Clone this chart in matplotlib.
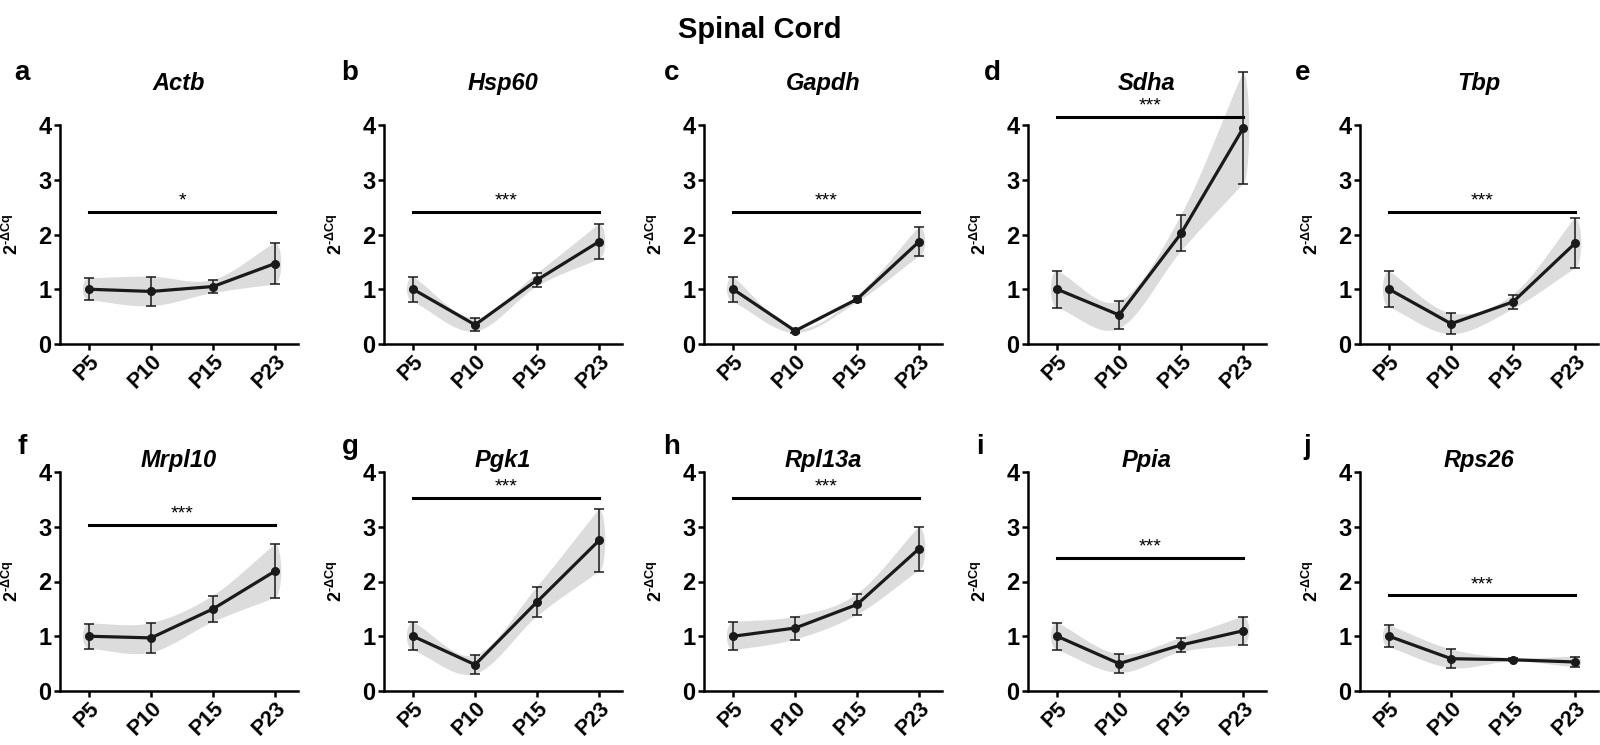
import numpy as np
import matplotlib
matplotlib.use('Agg')
import matplotlib.pyplot as plt

plt.rcParams['font.family'] = ['Liberation Sans', 'DejaVu Sans']
plt.rcParams['font.weight'] = 'bold'
plt.rcParams['mathtext.fontset'] = 'custom'
plt.rcParams['mathtext.rm'] = 'Liberation Sans:bold'
plt.rcParams['mathtext.bf'] = 'Liberation Sans:bold'
plt.rcParams['mathtext.it'] = 'Liberation Sans:bold:italic'

# ages on the x axis
ages = ['P5', 'P10', 'P15', 'P23']

# gene names and panel letters
genes = ['Actb', 'Hsp60', 'Gapdh', 'Sdha', 'Tbp',
         'Mrpl10', 'Pgk1', 'Rpl13a', 'Ppia', 'Rps26']
letters = ['a', 'b', 'c', 'd', 'e', 'f', 'g', 'h', 'i', 'j']

# mean 2^-dCq and error per age
actb = [1.00, 0.96, 1.05, 1.47]
actb_err = [0.20, 0.27, 0.12, 0.38]
hsp60 = [1.00, 0.35, 1.17, 1.87]
hsp60_err = [0.23, 0.12, 0.12, 0.32]
gapdh = [1.00, 0.24, 0.82, 1.87]
gapdh_err = [0.23, 0.04, 0.06, 0.27]
sdha = [1.00, 0.53, 2.02, 3.94]
sdha_err = [0.34, 0.25, 0.33, 1.02]
tbp = [1.00, 0.37, 0.77, 1.84]
tbp_err = [0.33, 0.19, 0.13, 0.46]
mrpl10 = [1.00, 0.97, 1.50, 2.19]
mrpl10_err = [0.23, 0.27, 0.24, 0.49]
pgk1 = [1.00, 0.48, 1.63, 2.75]
pgk1_err = [0.26, 0.17, 0.27, 0.57]
rpl13a = [1.00, 1.15, 1.58, 2.60]
rpl13a_err = [0.26, 0.21, 0.19, 0.40]
ppia = [1.00, 0.50, 0.84, 1.10]
ppia_err = [0.25, 0.17, 0.13, 0.26]
rps26 = [1.00, 0.59, 0.57, 0.53]
rps26_err = [0.20, 0.17, 0.03, 0.10]

means = [actb, hsp60, gapdh, sdha, tbp, mrpl10, pgk1, rpl13a, ppia, rps26]
errs = [actb_err, hsp60_err, gapdh_err, sdha_err, tbp_err,
        mrpl10_err, pgk1_err, rpl13a_err, ppia_err, rps26_err]

# significance bar height and label
sig_y = [2.42, 2.42, 2.42, 4.15, 2.42, 3.03, 3.53, 3.53, 2.43, 1.75]
sig_txt = ['*', '***', '***', '***', '***', '***', '***', '***', '***', '***']


def catmull(x, y, n=40):
    # smooth curve through the points
    x = np.asarray(x, float)
    y = np.asarray(y, float)
    px = np.concatenate([[2 * x[0] - x[1]], x, [2 * x[-1] - x[-2]]])
    py = np.concatenate([[2 * y[0] - y[1]], y, [2 * y[-1] - y[-2]]])
    xs, ys = [], []
    t = np.linspace(0, 1, n)
    for i in range(1, len(px) - 2):
        for p, out in ((px, xs), (py, ys)):
            p0, p1, p2, p3 = p[i - 1], p[i], p[i + 1], p[i + 2]
            out.append(0.5 * (2 * p1 + (-p0 + p2) * t
                              + (2 * p0 - 5 * p1 + 4 * p2 - p3) * t ** 2
                              + (-p0 + 3 * p1 - 3 * p2 + p3) * t ** 3))
    return np.concatenate(xs), np.concatenate(ys)


def band(ax, x, m, e, cap=0.1):
    m = np.asarray(m)
    e = np.asarray(e)
    ux, uy = catmull(x, m + e)
    lx, ly = catmull(x, m - e)
    th = np.linspace(np.pi / 2, -np.pi / 2, 30)
    rx = x[-1] + cap * np.cos(th)
    ry = m[-1] + e[-1] * np.sin(th)
    th2 = np.linspace(-np.pi / 2, -3 * np.pi / 2, 30)
    lcx = x[0] + cap * np.cos(th2)
    lcy = m[0] + e[0] * np.sin(th2)
    px = np.concatenate([ux, rx, lx[::-1], lcx])
    py = np.concatenate([uy, ry, ly[::-1], lcy])
    ax.fill(px, py, color='#dcdcdc', lw=0, zorder=1, clip_on=False)


W, H = 1600, 745
fig = plt.figure(figsize=(16, 7.45), dpi=100)

lefts = [60, 384, 704, 1028, 1360]
row_top = [125, 472]
row_h = 219
ax_w = 238
letter_x = [[22, 350, 672, 992, 1303], [22, 350, 672, 980, 1307]]
letter_y = [73, 447]
title_y = [83, 461]

x = np.arange(len(ages))

for k in range(10):
    r, c = divmod(k, 5)
    ax = fig.add_axes([lefts[c] / W, 1 - (row_top[r] + row_h) / H,
                       ax_w / W, row_h / H])
    band(ax, x, means[k], errs[k])
    ax.errorbar(x, means[k], yerr=errs[k], color='#1a1a1a', lw=2.3,
                marker='o', ms=5.5, elinewidth=1.1, capsize=3.5,
                capthick=1.1, zorder=3, clip_on=False)
    ax.plot([0, 3], [sig_y[k], sig_y[k]], color='black', lw=2.2,
            clip_on=False)
    ax.text(1.5, sig_y[k] + 0.04, sig_txt[k], ha='center', va='bottom',
            fontsize=14, fontweight='normal')
    ax.set_xlim(-0.47, 3.37)
    ax.set_ylim(0, 4)
    ax.set_yticks([0, 1, 2, 3, 4])
    ax.set_xticks(x)
    ax.set_xticklabels(ages, rotation=45, ha='right', va='top',
                       rotation_mode='anchor')
    for s in ['top', 'right']:
        ax.spines[s].set_visible(False)
    for s in ['left', 'bottom']:
        ax.spines[s].set_linewidth(1.8)
    ax.tick_params(width=1.8, length=4, pad=2)
    ax.tick_params(axis='y', labelsize=17)
    ax.tick_params(axis='x', labelsize=15.5, pad=1)
    ax.set_ylabel(r'$\mathbf{2^{\text{-}\Delta Cq}}$', fontsize=13)
    ax.yaxis.set_label_coords(-38 / ax_w, 0.5)
    ax.text(0.5, 1 + (row_top[r] - title_y[r]) / row_h, genes[k],
            transform=ax.transAxes, ha='center', va='center',
            fontsize=17, fontweight='bold', fontstyle='italic')
    fig.text(letter_x[r][c] / W, 1 - letter_y[r] / H, letters[k],
             ha='center', va='center', fontsize=20, fontweight='bold')

fig.text(760 / W, 1 - 30 / H, 'Spinal Cord', ha='center', va='center',
         fontsize=21, fontweight='bold')

fig.savefig('out.png', dpi=100)
